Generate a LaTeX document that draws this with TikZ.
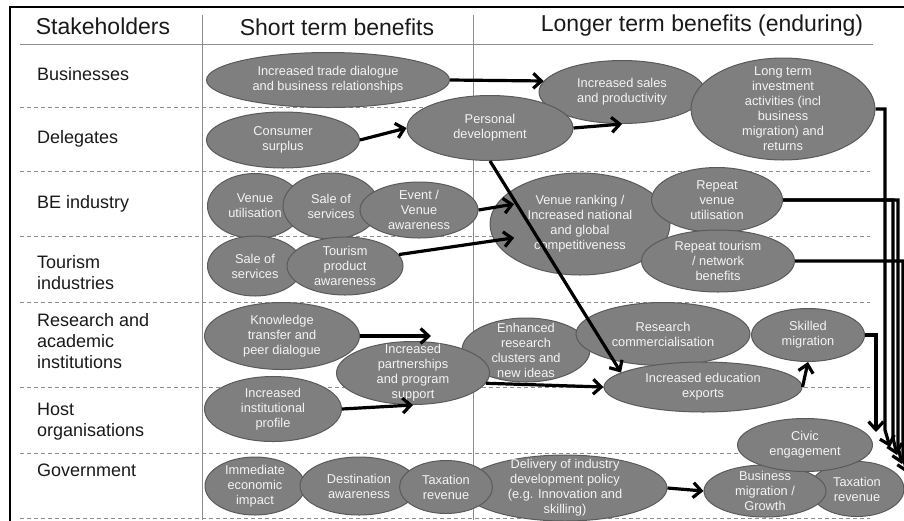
\documentclass[tikz,border=0pt]{standalone}
\usepackage{fontspec}
\setmainfont{Liberation Sans}
\usetikzlibrary{shapes.geometric,arrows.meta}
\definecolor{bubfill}{HTML}{7F7F7F}
\definecolor{bubline}{HTML}{5A5A5A}
\definecolor{bubtext}{HTML}{F4F4F4}
\definecolor{rulegray}{HTML}{8C8C8C}
\begin{document}
\begin{tikzpicture}[x=1pt,y=-1pt]
\tikzset{bub/.style={ellipse,draw=bubline,fill=bubfill,line width=1pt,inner sep=0pt},
txt/.style={text=bubtext,align=center,inner sep=0pt,font=\fontsize{12.8}{15}\selectfont},
lab/.style={anchor=west,align=left,inner sep=0pt,text=black!90,font=\fontsize{18}{21}\selectfont},
head/.style={text=black!90,font=\fontsize{23}{27}\selectfont},
link/.style={-{Straight Barb[length=8pt,width=15pt]},line width=3.2pt},
}
\useasboundingbox (0,0) rectangle (904,520);

% frame and grid
\draw[line width=2pt] (10,530) -- (10,7) -- (914,7);
\draw[rulegray] (20,44) -- (873,44);
\draw[rulegray] (202,15) -- (202,520);
\draw[rulegray] (473,15) -- (473,520);
\foreach \y in {107,171,236,302,387,453,518}
  \draw[rulegray,dash pattern=on 4pt off 3pt] (20,\y) -- (870,\y);

\node[head] (hstake) at (103,26) {Stakeholders};
\node[head] (hshort) at (337,27) {Short term benefits};
\node[head] (hlong) at (702,26) {Longer term benefits (enduring)};

\node[lab] (busi) at (37,74) {Businesses};
\node[lab] (dele) at (37,139) {Delegates};
\node[lab] (beind) at (37,204) {BE industry};
\node[lab] (touri) at (37,272.5) {Tourism\\industries};
\node[lab] (resac) at (37,341) {Research and\\academic\\institutions};
\node[lab] (hosto) at (37,421.5) {Host\\organisations};
\node[lab] (govt) at (37,470) {Government};

% benefits
\node[bub,minimum width=243pt,minimum height=55pt] (trade) at (328,80) {};
\node[txt] (tradeL) at (trade) {Increased trade dialogue\\and business relationships};
\node[bub,minimum width=153pt,minimum height=56pt] (surplus) at (283,140) {};
\node[txt] (surplusL) at (surplus) {Consumer\\surplus};
\node[bub,minimum width=166pt,minimum height=63pt] (sales) at (622,92) {};
\node[txt] (salesL) at (sales) {Increased sales\\and productivity};
\node[bub,minimum width=166pt,minimum height=65pt] (persdev) at (490,128) {};
\node[txt] (persdevL) at (persdev) {Personal\\development};
\node[bub,minimum width=184pt,minimum height=102pt] (lterm) at (783,109) {};
\node[txt] (ltermL) at (lterm) {Long term\\investment\\activities (incl\\business\\migration) and\\returns};

\node[bub,minimum width=95pt,minimum height=65pt] (venue) at (255,206) {};
\node[txt] (venueL) at (venue) {Venue\\utilisation};
\node[bub,minimum width=96pt,minimum height=66pt] (besale) at (331,206) {};
\node[txt] (besaleL) at (besale) {Sale of\\services};
\node[bub,minimum width=118pt,minimum height=56pt] (event) at (419,210) {};
\node[txt] (eventL) at (event) {Event /\\Venue\\awareness};
\node[bub,minimum width=180pt,minimum height=102pt] (rank) at (580,224) {};
\node[txt] (rankL) at (rank) {Venue ranking /\\Increased national\\and global\\competitiveness};
\node[bub,minimum width=131pt,minimum height=65pt] (rvenue) at (717,200) {};
\node[txt] (rvenueL) at (rvenue) {Repeat\\venue\\utilisation};
\node[bub,minimum width=153pt,minimum height=62pt] (rtour) at (718,261) {};
\node[txt] (rtourL) at (rtour) {Repeat tourism\\/ network\\benefits};

\node[bub,minimum width=95pt,minimum height=60pt] (tsale) at (255,266) {};
\node[txt] (tsaleL) at (tsale) {Sale of\\services};
\node[bub,minimum width=116pt,minimum height=58pt] (tprod) at (345,266) {};
\node[txt] (tprodL) at (tprod) {Tourism\\product\\awareness};

\node[bub,minimum width=155pt,minimum height=67pt] (know) at (282,336) {};
\node[txt] (knowL) at (know) {Knowledge\\transfer and\\peer dialogue};
\node[bub,minimum width=128pt,minimum height=64pt] (enh) at (526,350) {};
\node[txt] (enhL) at (enh) {Enhanced\\research\\clusters and\\new ideas};
\node[bub,minimum width=153pt,minimum height=63pt] (partner) at (413,373) {};
\node[txt] (partnerL) at (partner) {Increased\\partnerships\\and program\\support};
\node[bub,minimum width=137pt,minimum height=65pt] (profile) at (273,409) {};
\node[txt] (profileL) at (profile) {Increased\\institutional\\profile};
\node[bub,minimum width=174pt,minimum height=63pt] (comm) at (663,334) {};
\node[txt] (commL) at (comm) {Research\\commercialisation};
\node[bub,minimum width=198pt,minimum height=50pt] (edu) at (703,387) {};
\node[txt] (eduL) at (edu) {Increased education\\exports};
\node[bub,minimum width=113pt,minimum height=53pt] (skilled) at (808,335) {};
\node[txt] (skilledL) at (skilled) {Skilled\\migration};

\node[bub,minimum width=100pt,minimum height=58pt] (impact) at (255,486) {};
\node[txt] (impactL) at (impact) {Immediate\\economic\\impact};
\node[bub,minimum width=118pt,minimum height=58pt] (dest) at (359,486) {};
\node[txt] (destL) at (dest) {Destination\\awareness};
\node[bub,minimum width=204pt,minimum height=66pt] (deliv) at (565,488) {};
\node[txt] (delivL) at (deliv) {Delivery of industry\\development policy\\(e.g. Innovation and\\skilling)};
\node[bub,minimum width=93pt,minimum height=53pt] (taxa) at (446,487) {};
\node[txt] (taxaL) at (taxa) {Taxation\\revenue};
\node[bub,minimum width=94pt,minimum height=55pt] (taxb) at (857,489) {};
\node[txt] (taxbL) at (taxb) {Taxation\\revenue};
\node[bub,minimum width=122pt,minimum height=52pt] (bizmig) at (765,491) {};
\node[txt] (bizmigL) at (bizmig) {Business\\migration /\\Growth};
\node[bub,minimum width=135pt,minimum height=53pt] (civic) at (805,445) {};
\node[txt] (civicL) at (civic) {Civic\\engagement};

% links
\draw[link] (trade.east) -- (sales.172);
\draw[link] (surplus.east) -- (persdev.west);
\draw[link] (persdev.east) -- (sales.south);
\draw[link] (persdev.south) -- (edu.170);
\draw[link,shorten >=-20pt] (event.east) -- (rank.169);
\draw[link,shorten >=-20pt] (tprod.12) -- (rank.191);
\draw[link] (know.east) -- (know.east -| partner.60);
\draw[link] (profile.east) -- (partner.south);
\draw[link] (partner.-8) -- (edu.west);
\draw[link] (edu.east) -- (skilled.south);
\draw[link] (deliv.east) -- (bizmig.west);

% lines down the right edge
\coordinate (sk1) at (876,432);
\coordinate (lt1) at (885,430);
\coordinate (lt2) at (890,447);
\coordinate (rva1) at (893,438);
\coordinate (rva2) at (897,455);
\coordinate (rvb1) at (898,447);
\coordinate (rvb2) at (902,464);
\coordinate (rt1) at (903,456);
\coordinate (rt2) at (907,473);
\draw[link] (skilled.east) -| (sk1);
\draw[link] (lterm.east) -| (lt1) -- (lt2);
\draw[link] (rvenue.east) -| (rva1) -- (rva2);
\draw[link] (rvenue.east) -| (rvb1) -- (rvb2);
\draw[link] (rtour.east) -| (rt1) -- (rt2);

\end{tikzpicture}
\end{document}
